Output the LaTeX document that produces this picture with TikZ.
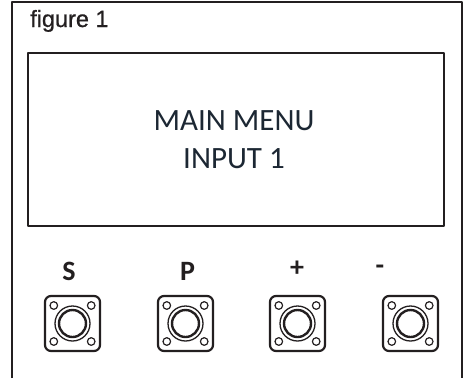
\documentclass[tikz,border=0pt]{standalone}
\usepackage{fontspec}
\setmainfont{Carlito}
\newfontfamily\figfont[FakeBold=0.8]{Liberation Sans}
\definecolor{ink}{HTML}{231F20}
\definecolor{lcd}{HTML}{1C2733}

\begin{document}
\begin{tikzpicture}[x=1pt, y=-1pt, line join=round,
  keybox/.style={draw=ink, rectangle, rounded corners=6pt, minimum size=55pt, line width=2.2pt, inner sep=0pt},
  keylabel/.style={anchor=base, inner sep=0pt, text=ink, font=\bfseries\fontsize{28}{32}\selectfont},
  lcdtext/.style={anchor=base, inner sep=0pt, text=lcd, font=\fontsize{31}{38}\selectfont}]
\useasboundingbox (0,0) rectangle (465,378);

% housing, open at the bottom
\draw[ink, line width=2pt] (12,378) -- (12,2) -- (462,2) -- (462,378);
\node[anchor=base west, inner sep=0pt, text=ink, font=\figfont\fontsize{23.5}{28}\selectfont] (title) at (30,27) {figure 1};

% display
\node[draw=ink, line width=2.5pt, minimum width=416pt, minimum height=173pt, inner sep=0pt] (display) at (236,139.5) {};
\node[lcdtext] (menu) at (234,130) {MAIN MENU};
\node[lcdtext] (input) at (234,168) {INPUT 1};

% push buttons
\foreach \bx/\lx/\ly/\key/\name in {72.5/69/280/S/set, 185.5/187.5/280/P/prog, 297.5/297/276/+/plus, 410.5/380/274/-/minus} {
  \node[keylabel] (\name label) at (\lx,\ly) {\key};
  \node[keybox] (\name) at (\bx,323.5) {};
  \foreach \dx/\dy in {-18.7/-18, 18.7/-18, -18.7/18, 18.7/18}
    \draw[ink, line width=1.2pt] ([shift={(\dx,\dy)}]\name.center) circle (3.8);
  \draw[ink, line width=1.3pt] (\name.center) circle (17.5);
  \draw[ink, line width=2.4pt] (\name.center) circle (13.5);
}
\end{tikzpicture}
\end{document}
